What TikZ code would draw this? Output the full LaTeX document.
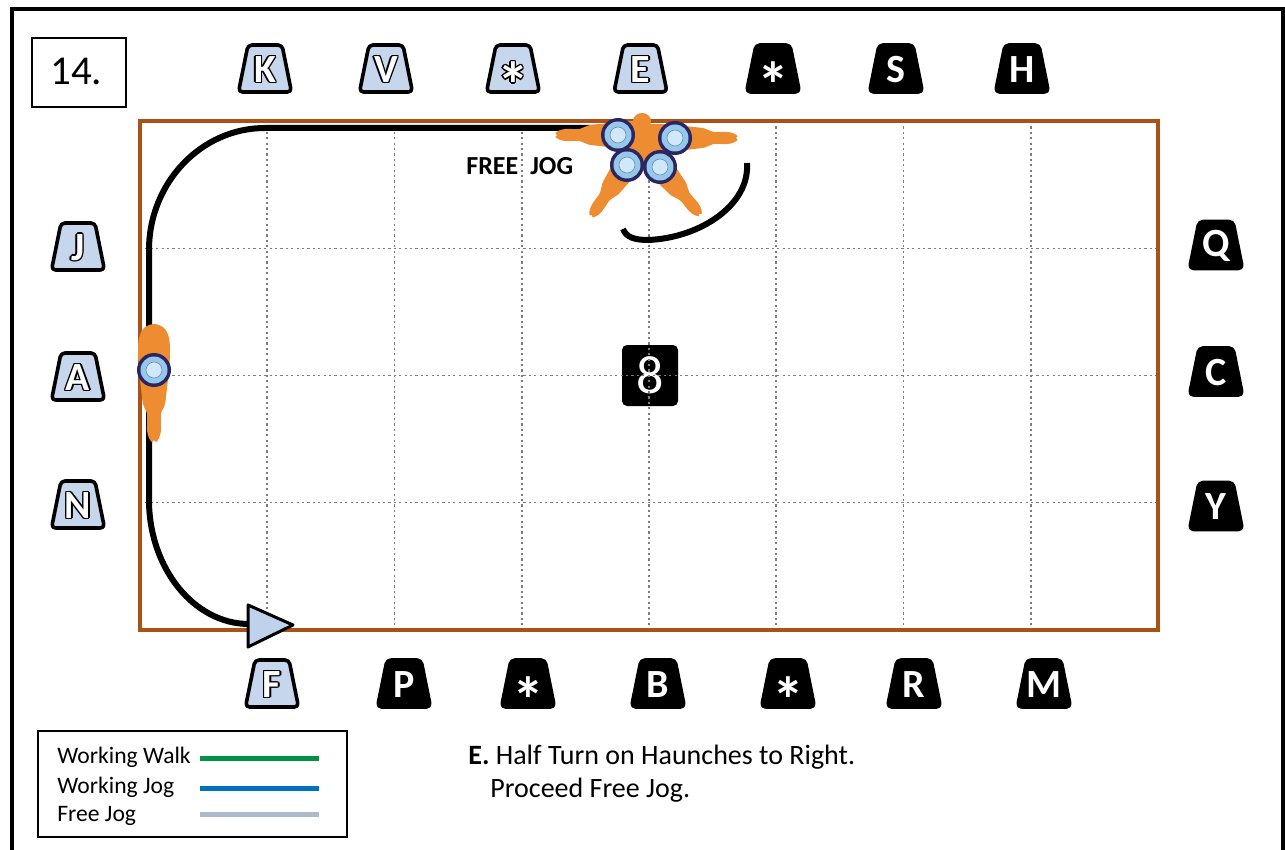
\documentclass[tikz,border=0pt]{standalone}
\usepackage{fontspec}
\setmainfont{Carlito}
\usetikzlibrary{calc}

\definecolor{fence}{RGB}{170,82,22}
\definecolor{horsecol}{RGB}{238,140,50}
\definecolor{riderring}{RGB}{44,38,96}
\definecolor{riderfill}{RGB}{150,200,238}
\definecolor{riderin}{RGB}{208,232,250}
\definecolor{markfill}{RGB}{198,214,236}
\definecolor{gridgray}{RGB}{125,125,125}
\definecolor{walkgreen}{RGB}{0,146,69}
\definecolor{jogblue}{RGB}{0,112,192}
\definecolor{freegray}{RGB}{173,185,202}
\definecolor{tipfill}{RGB}{190,210,236}

% white letters with a thin black outline (offset black copies underneath)
\newcommand\ringcopy[3]{\rlap{\kern#1\raisebox{#2}{\color{black}#3}}}
\newcommand\ringed[1]{\leavevmode
  \ringcopy{0.7pt}{0pt}{#1}\ringcopy{-0.7pt}{0pt}{#1}%
  \ringcopy{0pt}{0.7pt}{#1}\ringcopy{0pt}{-0.7pt}{#1}%
  \ringcopy{0.5pt}{0.5pt}{#1}\ringcopy{0.5pt}{-0.5pt}{#1}%
  \ringcopy{-0.5pt}{0.5pt}{#1}\ringcopy{-0.5pt}{-0.5pt}{#1}%
  {\color{white}#1}}

% a large asterisk, lowered so that it sits in the middle of its marker
\newcommand\markstar{{\fontsize{32}{32}\selectfont\raisebox{-0.6em}[0pt][0pt]{*}}}

% arena letter markers: light (outlined letter) and dark (white letter)
\newcommand\lightmark[4]{%
  \path[markedge, draw=black, fill=markfill]
    (#2-26.5,#3+23.5) -- (#2+26.5,#3+23.5) -- (#2+17,#3-23.5) -- (#2-17,#3-23.5) -- cycle;
  \node[markletter] (#1) at (#2,#3+1) {\ringed{#4}};}
\newcommand\darkmark[4]{%
  \path[markedge, draw=black, fill=black]
    (#2-26.5,#3+23.5) -- (#2+26.5,#3+23.5) -- (#2+17,#3-23.5) -- (#2-17,#3-23.5) -- cycle;
  \node[markletter, text=white] (#1) at (#2,#3+1) {#4};}

\tikzset{
  horsebody/.pic={
    \fill[horsecol] plot[smooth cycle, tension=0.55] coordinates {
      (-46,0) (-42,10) (-32,15) (-18,16) (0,15) (18,13) (34,11) (44,7)
      (60,7) (68,5) (72,2) (70,0) (72,-2) (68,-5) (60,-7) (44,-7)
      (34,-11) (18,-13) (0,-15) (-18,-16) (-32,-15) (-42,-10)};
  },
  rider/.pic={
    \fill[riderring] (0,0) circle (17);
    \fill[riderfill] (0,0) circle (13.5);
    \fill[riderin] (0,0) circle (8);
    \draw[riderfill!70!black, line width=0.3pt] (0,0) circle (8);
  }
}

\begin{document}
\begin{tikzpicture}[x=0.5pt,y=-0.5pt,
  markedge/.style={line width=1.8pt, rounded corners=2pt, line join=round},
  markletter/.style={inner sep=0pt, font=\fontsize{20}{20}\selectfont\bfseries},
  gridline/.style={gridgray, line width=0.9pt, dash pattern=on 1.1pt off 1.6pt},
  trail/.style={black, line width=3pt},
  legendtext/.style={anchor=base west, inner sep=0pt, font=\fontsize{11.8}{12}\selectfont},
  swatch/.style={line width=2.5pt}]

\useasboundingbox (0,0) rectangle (1285,850);

% outer frame (open at the bottom)
\draw[line width=2pt] (11.5,852) -- (11.5,8.7) -- (1283,8.7) -- (1283,852);

% test number
\node[draw, line width=1pt, minimum width=47pt, minimum height=34.5pt, inner sep=0pt] (num) at (79,72.5) {};
\node[anchor=base west, inner sep=0pt, font=\fontsize{20.5}{21}\selectfont] (numtext) at (50,85) {14.};

% centre marker 8
\node[fill=black, rounded corners=2.5pt, minimum width=28pt, minimum height=30.5pt, inner sep=0pt,
      text=white, font=\fontsize{27}{27}\selectfont] (eight) at (650,375.5) {8};

% dotted grid
\foreach \gx in {1,...,7}
  \draw[gridline] ({140+127.25*\gx},121) -- ({140+127.25*\gx},630);
\foreach \gy in {1,2,3}
  \draw[gridline] (140,{121.5+127*\gy}) -- (1158,{121.5+127*\gy});

% arena fence
\draw[fence, line width=2.2pt, line join=miter] (140,121) rectangle (1158,630);

% markers, top row
\lightmark{mK}{265}{68.5}{K}
\lightmark{mV}{386}{68.5}{V}
\lightmark{mStarTL}{513}{68.5}{\markstar}
\lightmark{mE}{640.5}{68.5}{E}
\darkmark{mStarTR}{773}{68.5}{\markstar}
\darkmark{mS}{896}{68.5}{S}
\darkmark{mH}{1022}{68.5}{H}
% markers, bottom row
\lightmark{mF}{272}{683.5}{F}
\darkmark{mP}{404}{683.5}{P}
\darkmark{mStarBL}{528}{683.5}{\markstar}
\darkmark{mB}{658}{683.5}{B}
\darkmark{mStarBR}{788}{683.5}{\markstar}
\darkmark{mR}{914}{683.5}{R}
\darkmark{mM}{1044}{683.5}{M}
% markers, sides
\lightmark{mJ}{78}{246.5}{J}
\lightmark{mA}{78}{376.5}{A}
\lightmark{mN}{78}{504.5}{N}
\darkmark{mQ}{1216}{245}{Q}
\darkmark{mC}{1216}{371.5}{C}
\darkmark{mY}{1216}{506}{Y}

% ridden track
\coordinate (trailstart) at (600,128);
\coordinate (arrowbase) at (249,624);
\draw[trail] (trailstart) -- (265,128)
  .. controls (201,128) and (149,183) .. (149,250)
  -- (149,500)
  .. controls (149,568) and (194,624) .. (arrowbase);
\draw[black, line width=1.5pt, fill=tipfill, line join=round]
  (arrowbase) ++(-1,-19) -- ++(45,20) -- ++(-45,22) -- cycle;

% half turn arc
\coordinate (turnstart) at (747,163);
\coordinate (turnend) at (623,229);
\draw[trail] (turnstart) .. controls (750,205) and (700,238) .. (648,240)
  .. controls (634,240) and (626,237) .. (turnend);

% horse on the long side
\pic[rotate=-90] at (154,370) {horsebody};
\pic at (154,370) {rider};

% horses turning at E
\fill[horsecol] (642,121) ellipse (9 and 8);
\pic[scale=0.87, rotate=180] at (618,135) {horsebody};
\pic[scale=0.87, rotate=0] at (675,138) {horsebody};
\pic[scale=0.87, rotate=-125] at (627,165) {horsebody};
\pic[scale=0.87, rotate=-50] at (660,167) {horsebody};
\pic at (618,135) {rider};
\pic at (675,138) {rider};
\pic at (627,165) {rider};
\pic at (660,167) {rider};

\node[anchor=base west, inner sep=0pt, font=\fontsize{13}{13}\selectfont\bfseries] (freejog) at (466,175) {FREE\hspace{6pt}JOG};

% legend
\node[draw, line width=1pt, minimum width=154.5pt, minimum height=53pt, inner sep=0pt] (legend) at (192.5,784) {};
\node[legendtext] (lwalk) at (57,763) {Working Walk};
\node[legendtext] (ljog) at (57,793) {Working Jog};
\node[legendtext] (lfree) at (57,821) {Free Jog};
\draw[swatch, walkgreen] (200,758) -- (319,758);
\draw[swatch, jogblue] (200,788) -- (319,788);
\draw[swatch, freegray] (200,814) -- (319,814);

% instruction
\node[anchor=base west, inner sep=0pt, font=\fontsize{14}{14}\selectfont] (instr1) at (468,764)
  {\textbf{E.} Half Turn on Haunches to Right.};
\node[anchor=base west, inner sep=0pt, font=\fontsize{14}{14}\selectfont] (instr2) at (490,797)
  {Proceed Free Jog.};
\end{tikzpicture}
\end{document}
